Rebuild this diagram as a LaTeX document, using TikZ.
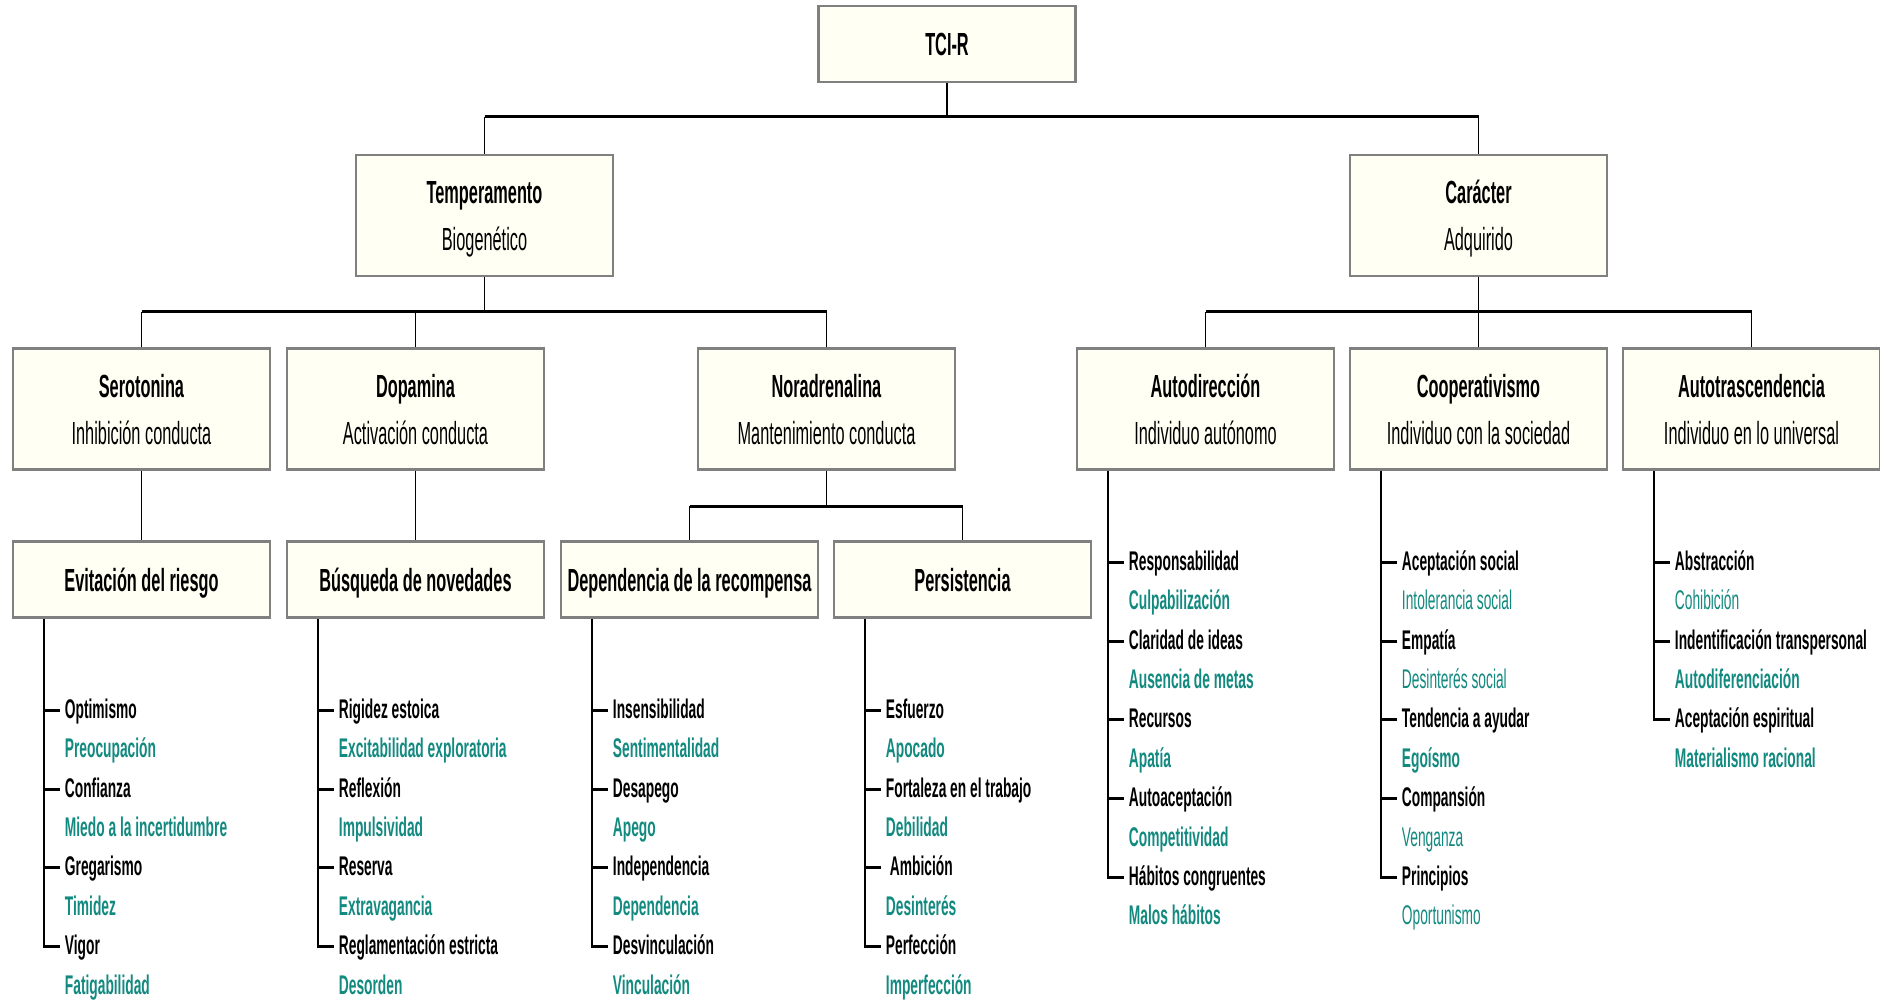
\documentclass[tikz,border=0pt]{standalone}
\usepackage{fontspec}
\setmainfont{Liberation Sans}[FakeStretch=0.51]
\usetikzlibrary{calc}
\definecolor{tealtx}{RGB}{18,138,128}
\definecolor{boxfill}{RGB}{255,255,244}
\definecolor{boxline}{RGB}{128,128,128}
\newcommand\tcitwo[2]{\rule{0pt}{32pt}\textbf{#1}\\#2\rule[-8pt]{0pt}{8pt}}
\newcommand\tcilist[4]{%
  \coordinate (#2L) at ($(#1.south west)+(32,0)$);
  \foreach [count=\i] \t/\s in {#4} {
    \node[\s] (#2\i) at ($(#2L)+(21,91.5+39.4*\i-39.4)$) {\t};
  }
  \draw[lst] (#2L) |- ($(#2#3.west)+(-5,0)$);
  \foreach \k in {1,3,...,#3} {
    \draw[tck] (#2L |- #2\k.west) -- ($(#2\k.west)+(-5,0)$);
  }
}
\begin{document}
\begin{tikzpicture}[x=1pt,y=-1pt,
  box/.style={draw=boxline, fill=boxfill, line width=2.5pt, minimum width=257pt, inner sep=0pt, align=center, font=\fontsize{32}{47}\selectfont},
  tall/.style={box, minimum height=121pt},
  low/.style={box, minimum height=76pt},
  lowt/.style={low, text height=30pt, text depth=7pt},
  conn/.style={line width=1.6pt},
  bar/.style={line width=3pt},
  lst/.style={line width=2.2pt},
  tck/.style={line width=3pt},
  it/.style={anchor=west, inner sep=0pt, text height=20pt, text depth=4pt, font=\fontsize{27}{30}\selectfont\bfseries},
  blk/.style={it, text=black},
  tl/.style={it, text=tealtx},
  tlr/.style={it, text=tealtx, font=\fontsize{27}{30}\selectfont\mdseries},
]
\useasboundingbox (0,0) rectangle (1880,1000);
\fill[white] (0,0) rectangle (1880,1000);

% boxes
\node[low]  (tci)  at (947,44)     {\bfseries TCI-R};
\node[tall] (temp) at (484.5,215.5) {\tcitwo{Temperamento}{Biogenético}};
\node[tall] (car)  at (1478.5,215.5) {\tcitwo{Carácter}{Adquirido}};
\node[tall] (ser)  at (141.5,409)  {\tcitwo{Serotonina}{Inhibición conducta}};
\node[tall] (dop)  at (415.5,409)  {\tcitwo{Dopamina}{Activación conducta}};
\node[tall] (nor)  at (826.5,409)  {\tcitwo{Noradrenalina}{Mantenimiento conducta}};
\node[tall] (adir) at (1205.5,409) {\tcitwo{Autodirección}{Individuo autónomo}};
\node[tall] (coop) at (1478.5,409) {\tcitwo{Cooperativismo}{Individuo con la sociedad}};
\node[tall] (atra) at (1751.5,409) {\tcitwo{Autotrascendencia}{Individuo en lo universal}};
\node[lowt] (evit) at (141.5,579.5) {\bfseries Evitación del riesgo};
\node[lowt] (bus)  at (415.5,579.5) {\bfseries Búsqueda de novedades};
\node[lowt] (dep)  at (689.5,579.5) {\bfseries Dependencia de la recompensa};
\node[lowt] (per)  at (962.5,579.5) {\bfseries Persistencia};

% junction coordinates
\coordinate (j0) at (947,117);
\coordinate (j1) at (484.5,312);
\coordinate (j2) at (1478.5,312);
\coordinate (j3) at (826.5,506);

% connectors
\draw[conn] (tci.south) -- (j0);
\draw[bar] (temp.north |- j0) -- (car.north |- j0);
\draw[conn] (temp.north |- j0) -- (temp.north);
\draw[conn] (car.north |- j0) -- (car.north);

\draw[conn] (temp.south) -- (j1);
\draw[bar] (ser.north |- j1) -- (nor.north |- j1);
\draw[conn] (ser.north |- j1) -- (ser.north);
\draw[conn] (dop.north |- j1) -- (dop.north);
\draw[conn] (nor.north |- j1) -- (nor.north);

\draw[conn] (car.south) -- (j2);
\draw[bar] (adir.north |- j2) -- (atra.north |- j2);
\draw[conn] (adir.north |- j2) -- (adir.north);
\draw[conn] (coop.north |- j2) -- (coop.north);
\draw[conn] (atra.north |- j2) -- (atra.north);

\draw[conn] (ser.south) -- (evit.north);
\draw[conn] (dop.south) -- (bus.north);

\draw[conn] (nor.south) -- (j3);
\draw[bar] (dep.north |- j3) -- (per.north |- j3);
\draw[conn] (dep.north |- j3) -- (dep.north);
\draw[conn] (per.north |- j3) -- (per.north);

% item lists
\tcilist{evit}{ev}{7}{Optimismo/blk, Preocupación/tl, Confianza/blk, Miedo a la incertidumbre/tl, Gregarismo/blk, Timidez/tl, Vigor/blk, Fatigabilidad/tl}
\tcilist{bus}{bu}{7}{Rigidez estoica/blk, Excitabilidad exploratoria/tl, Reflexión/blk, Impulsividad/tl, Reserva/blk, Extravagancia/tl, Reglamentación estricta/blk, Desorden/tl}
\tcilist{dep}{de}{7}{Insensibilidad/blk, Sentimentalidad/tl, Desapego/blk, Apego/tl, Independencia/blk, Dependencia/tl, Desvinculación/blk, Vinculación/tl}
\tcilist{per}{pe}{7}{Esfuerzo/blk, Apocado/tl, Fortaleza en el trabajo/blk, Debilidad/tl, {\hspace{4pt}Ambición}/blk, Desinterés/tl, Perfección/blk, Imperfección/tl}
\tcilist{adir}{ad}{9}{Responsabilidad/blk, Culpabilización/tl, Claridad de ideas/blk, Ausencia de metas/tl, Recursos/blk, Apatía/tl, Autoaceptación/blk, Competitividad/tl, Hábitos congruentes/blk, Malos hábitos/tl}
\tcilist{coop}{co}{9}{Aceptación social/blk, Intolerancia social/tlr, Empatía/blk, Desinterés social/tlr, Tendencia a ayudar/blk, Egoísmo/tl, Compansión/blk, Venganza/tlr, Principios/blk, Oportunismo/tlr}
\tcilist{atra}{at}{5}{Abstracción/blk, Cohibición/tlr, Indentificación transpersonal/blk, Autodiferenciación/tl, Aceptación espiritual/blk, Materialismo racional/tl}
\end{tikzpicture}
\end{document}
